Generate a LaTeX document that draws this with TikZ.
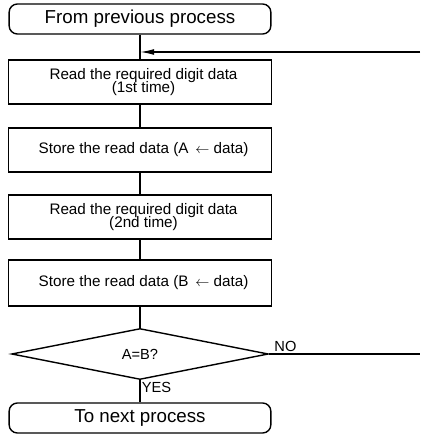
\documentclass[tikz,border=0pt]{standalone}
\usepackage{fontspec}
\setmainfont{Liberation Sans}
\usetikzlibrary{shapes.geometric,arrows.meta}
\begin{document}
\begin{tikzpicture}[line width=1.2pt,
    term/.style={draw, rounded corners=7pt, minimum width=7.85cm, minimum height=0.9cm, inner sep=1pt, font=\fontsize{16}{17}\selectfont},
    proc/.style={draw, minimum width=7.9cm, minimum height=1.32cm, inner sep=1pt, align=center, font=\fontsize{13}{13.5}\selectfont},
    test/.style={draw, diamond, minimum width=7.7cm, minimum height=1.53cm, inner sep=0pt, font=\fontsize{12.5}{13}\selectfont},
    lbl/.style={inner sep=1pt, font=\fontsize{12.5}{13}\selectfont}]
      \useasboundingbox (0,0) rectangle (12.6,-13.11);
      \node[term] (start) at (4.2,-0.57) {From previous process};
      \node[proc] (read1) at (4.2,-2.46) {\hspace*{6pt}Read the required digit data\\[-2pt]\hspace*{6pt}(1st time)};
      \node[proc] (store1) at (4.2,-4.5) {\hspace*{6pt}Store the read data (A \,$\leftarrow$ data)};
      \node[proc] (read2) at (4.2,-6.51) {\hspace*{6pt}Read the required digit data\\[-2pt]\hspace*{6pt}(2nd time)};
      \node[proc, minimum height=1.38cm] (store2) at (4.2,-8.49) {\hspace*{6pt}Store the read data (B \,$\leftarrow$ data)};
      \node[test] (cmp) at (4.2,-10.62) {A=B?};
      \node[term] (next) at (4.2,-12.54) {To next process};
      \coordinate (back) at (12.6,-1.56);
      \coordinate (noend) at (12.6,-10.62);
      \draw (start.south) -- (read1.north);
      \draw (read1.south) -- (store1.north);
      \draw (store1.south) -- (read2.north);
      \draw (read2.south) -- (store2.north);
      \draw (store2.south) -- (cmp.north);
      \draw (cmp.south) -- (next.north);
      \draw (cmp.east) -- (noend);
      \draw[-{Latex[length=12pt,width=5pt]}] (back) -- (start.south |- back);
      \node[lbl, anchor=south west, xshift=3pt] at (cmp.east) {NO};
      \node[lbl, anchor=north west] at (cmp.south) {YES};
    \end{tikzpicture}
\end{document}
